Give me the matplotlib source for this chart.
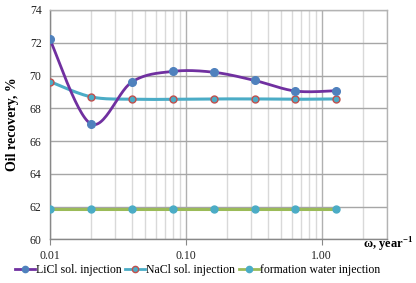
import numpy as np
import matplotlib
matplotlib.use("Agg")
import matplotlib.pyplot as plt
from matplotlib.ticker import FixedLocator, FixedFormatter, LogLocator, NullFormatter

omega = [0.01, 0.02, 0.04, 0.08, 0.16, 0.32, 0.64, 1.28]
licl = [72.2, 67.05, 69.6, 70.25, 70.2, 69.7, 69.05, 69.07]
nacl = [69.63, 68.7, 68.55, 68.55, 68.57, 68.57, 68.55, 68.57]
fwater = [61.87, 61.87, 61.87, 61.87, 61.87, 61.87, 61.87, 61.87]
yticks = [60, 62, 64, 66, 68, 70, 72, 74]
xticks = [0.01, 0.1, 1.0]
xticklabels = ["0.01", "0.10", "1.00"]

plt.rcParams['font.family'] = ['Liberation Serif', 'DejaVu Serif']
plt.rcParams['mathtext.fontset'] = 'custom'
plt.rcParams['mathtext.rm'] = 'Liberation Serif'
plt.rcParams['mathtext.bf'] = 'Liberation Serif:bold'

def smooth(x, y, n=30):
    lx = np.log10(np.asarray(x, float))
    yy = np.asarray(y, float)
    P = np.column_stack([lx, yy])
    m = len(P)
    out = []
    for i in range(m - 1):
        p0 = P[i - 1] if i > 0 else P[i]
        p1 = P[i]
        p2 = P[i + 1]
        p3 = P[i + 2] if i + 2 < m else P[i + 1]
        c1 = p1 + (p2 - p0) / 6.0
        c2 = p2 - (p3 - p1) / 6.0
        t = np.linspace(0, 1, n)[:, None]
        seg = ((1 - t) ** 3) * p1 + 3 * ((1 - t) ** 2) * t * c1 + 3 * (1 - t) * t ** 2 * c2 + t ** 3 * p2
        out.append(seg if i == 0 else seg[1:])
    S = np.vstack(out)
    return 10 ** S[:, 0], S[:, 1]

fig = plt.figure(figsize=(4.16, 2.83), dpi=100)
ax = fig.add_axes([0.120, 0.1544, 0.8095, 0.8103])
ax.set_xscale('log')
ax.set_xlim(0.01, 3.0)
ax.set_ylim(60, 74)

ax.xaxis.set_major_locator(FixedLocator(xticks))
ax.xaxis.set_major_formatter(FixedFormatter(xticklabels))
ax.xaxis.set_minor_locator(LogLocator(base=10, subs=np.arange(2, 10)))
ax.xaxis.set_minor_formatter(NullFormatter())
ax.set_yticks(yticks)

ax.grid(True, which='major', axis='x', color='#b0b0b0', lw=1.0)
ax.grid(True, which='minor', axis='x', color='#d9d9d9', lw=1.0)
ax.grid(True, which='major', axis='y', color='#a6a6a6', lw=1.0)
ax.set_axisbelow(True)
for s in ax.spines.values():
    s.set_color('#b3b3b3')
    s.set_linewidth(1.0)
ax.spines['left'].set_color('#888888')
ax.spines['bottom'].set_color('#888888')
ax.tick_params(which='both', length=0, labelsize=8.5, colors='#222222')
ax.tick_params(axis='x', which='major', length=4, color='#888888', pad=4)
ax.tick_params(axis='y', pad=6)

sx, sy = smooth(omega, fwater)
ax.plot(sx, sy, color='#9BBB59', lw=2.2, zorder=3)
ax.plot(omega, fwater, ls='none', marker='o', ms=5, mfc='#4BACC6', mec='#4BACC6', zorder=4)
sx, sy = smooth(omega, nacl)
ax.plot(sx, sy, color='#4BACC6', lw=2.2, zorder=3)
ax.plot(omega, nacl, ls='none', marker='o', ms=5, mfc='#4BACC6', mec='#C0504D', mew=1.0, zorder=4)
sx, sy = smooth(omega, licl)
ax.plot(sx, sy, color='#7030A0', lw=2.0, zorder=5)
ax.plot(omega, licl, ls='none', marker='o', ms=5.5, mfc='#4F81BD', mec='#4F81BD', zorder=6)

ax.set_ylabel('Oil recovery, %', fontsize=10, fontweight='bold', labelpad=8)
fig.text(0.993, 0.135, 'ω, year$^{\\mathbf{-1}}$', ha='right', va='center', fontsize=9, fontweight='bold')

h1, = ax.plot([], [], color='#7030A0', lw=2.0, marker='o', ms=4.5, mfc='#4F81BD', mec='#4F81BD')
h2, = ax.plot([], [], color='#4BACC6', lw=2.0, marker='o', ms=4.5, mfc='#4BACC6', mec='#C0504D')
h3, = ax.plot([], [], color='#9BBB59', lw=2.0, marker='o', ms=4.5, mfc='#4BACC6', mec='#4BACC6')
fig.legend([h1, h2, h3], ['LiCl sol. injection', 'NaCl sol. injection', 'formation water injection'],
           loc='center', bbox_to_anchor=(0.475, 0.045), ncol=3, frameon=False, fontsize=8.5,
           handlelength=1.7, handletextpad=0.1, columnspacing=0.3, borderpad=0)

fig.savefig('out.png', dpi=100)
